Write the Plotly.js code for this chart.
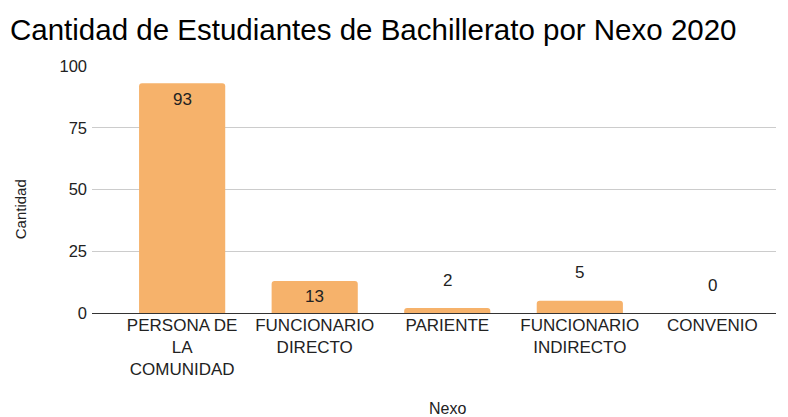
<!DOCTYPE html>
<html>
<head>
<meta charset="utf-8">
<script src="https://cdn.plot.ly/plotly-3.0.1.min.js"></script>
<style>html,body{margin:0;padding:0;background:#fff;}#chart{width:788px;height:417px;}</style>
</head>
<body>
<div id="chart"></div>
<script>
var categories = ["PERSONA DE<br>LA<br>COMUNIDAD", "FUNCIONARIO<br>DIRECTO", "PARIENTE", "FUNCIONARIO<br>INDIRECTO", "CONVENIO"];
var values = [93, 13, 2, 5, 0];
var yTicks = [0, 25, 50, 75, 100];
var titleText = "Cantidad de Estudiantes de Bachillerato por Nexo 2020";
var xTitle = "Nexo";
var yTitle = "Cantidad";

var xIdx = categories.map(function(_, i){ return i; });
var font = "Liberation Sans, Arial, sans-serif";

var annotations = values.map(function(v, i){
  var inside = v >= 10;
  return {
    x: i, y: v, xref: 'x', yref: 'y',
    text: String(v), showarrow: false,
    yshift: inside ? -16 : 28,
    font: {family: font, size: 17, color: '#222'}
  };
});
annotations.push({
  x: 2, y: 0, xref: 'x', yref: 'paper', yanchor: 'middle',
  text: xTitle, showarrow: false, yshift: -95,
  font: {family: font, size: 16, color: '#222'}
});
annotations.push({
  x: 0, xref: 'paper', xshift: -72, xanchor: 'center',
  y: 0.42, yref: 'paper', yanchor: 'middle',
  text: yTitle, showarrow: false, textangle: -90,
  font: {family: font, size: 15, color: '#222'}
});

var trace = {
  type: 'bar',
  x: xIdx,
  y: values,
  width: 0.65,
  marker: {color: '#F6B26B', cornerradius: 3},
  hoverinfo: 'none'
};

var layout = {
  width: 788, height: 417,
  margin: {l: 92, r: 12, t: 66, b: 104},
  paper_bgcolor: '#fff', plot_bgcolor: '#fff',
  title: {text: titleText, x: 10/788, xanchor: 'left', xref: 'container',
          y: 1 - 30/417, yanchor: 'middle', yref: 'container',
          font: {family: font, size: 29.5, color: '#000'}},
  xaxis: {
    range: [-0.68, 4.48],
    tickmode: 'array', tickvals: xIdx, ticktext: categories,
    showgrid: false, zeroline: false, showline: false,
    ticks: '', tickfont: {family: font, size: 17, color: '#222'},
    fixedrange: true
  },
  yaxis: {
    range: [0, 100],
    tickmode: 'array', tickvals: yTicks, ticktext: yTicks.map(String),
    showgrid: true, gridcolor: '#cccccc', gridwidth: 1,
    zeroline: true, zerolinecolor: '#333333', zerolinewidth: 1,
    showline: false, ticks: '', ticklabelstandoff: 4,
    tickfont: {family: font, size: 16.5, color: '#222'},
    fixedrange: true
  },
  annotations: annotations,
  showlegend: false,
  bargap: 0.35
};

Plotly.newPlot('chart', [trace], layout, {displayModeBar: false, staticPlot: true});
</script>
</body>
</html>
